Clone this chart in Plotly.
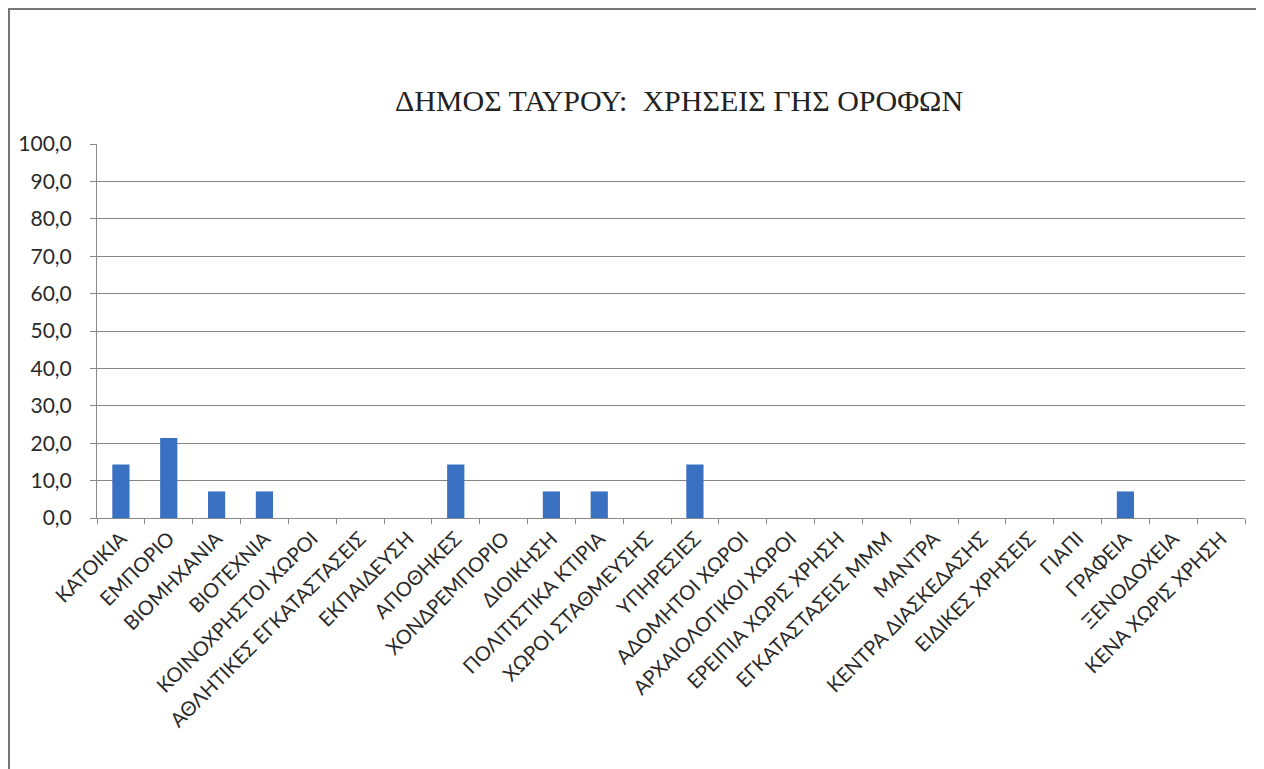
import plotly.graph_objects as go

categories = [
    "ΚΑΤΟΙΚΙΑ", "ΕΜΠΟΡΙΟ", "ΒΙΟΜΗΧΑΝΙΑ", "ΒΙΟΤΕΧΝΙΑ", "ΚΟΙΝΟΧΡΗΣΤΟΙ ΧΩΡΟΙ",
    "ΑΘΛΗΤΙΚΕΣ ΕΓΚΑΤΑΣΤΑΣΕΙΣ", "ΕΚΠΑΙΔΕΥΣΗ", "ΑΠΟΘΗΚΕΣ", "ΧΟΝΔΡΕΜΠΟΡΙΟ",
    "ΔΙΟΙΚΗΣΗ", "ΠΟΛΙΤΙΣΤΙΚΑ ΚΤΙΡΙΑ", "ΧΩΡΟΙ ΣΤΑΘΜΕΥΣΗΣ", "ΥΠΗΡΕΣΙΕΣ",
    "ΑΔΟΜΗΤΟΙ ΧΩΡΟΙ", "ΑΡΧΑΙΟΛΟΓΙΚΟΙ ΧΩΡΟΙ", "ΕΡΕΙΠΙΑ ΧΩΡΙΣ ΧΡΗΣΗ",
    "ΕΓΚΑΤΑΣΤΑΣΕΙΣ ΜΜΜ", "ΜΑΝΤΡΑ", "ΚΕΝΤΡΑ ΔΙΑΣΚΕΔΑΣΗΣ", "ΕΙΔΙΚΕΣ ΧΡΗΣΕΙΣ",
    "ΓΙΑΠΙ", "ΓΡΑΦΕΙΑ", "ΞΕΝΟΔΟΧΕΙΑ", "ΚΕΝΑ ΧΩΡΙΣ ΧΡΗΣΗ",
]
values = [14.3, 21.4, 7.1, 7.1, 0, 0, 0, 14.3, 0, 7.1, 7.1, 0, 14.3,
          0, 0, 0, 0, 0, 0, 0, 0, 7.1, 0, 0]
y_ticks = [0, 10, 20, 30, 40, 50, 60, 70, 80, 90, 100]
title_text = "ΔΗΜΟΣ ΤΑΥΡΟΥ:  ΧΡΗΣΕΙΣ ΓΗΣ ΟΡΟΦΩΝ"

# page has an 8px body offset; compensate
OFF = 8
W, H = 1264 - OFF, 769 - OFF
L, R, T, B = 97 - OFF, 1245 - OFF, 144 - OFF, 518 - OFF

fig = go.Figure(go.Bar(
    x=categories, y=values,
    marker=dict(color="#3a70c2", line=dict(width=0)),
    width=0.36,
))

fig.update_layout(
    width=W, height=H,
    margin=dict(l=L, r=W - R, t=T, b=H - B, autoexpand=False),
    paper_bgcolor="white", plot_bgcolor="white",
    separators=",.",
    showlegend=False,
    title=dict(text=title_text, x=(679 - OFF) / W, xanchor="center",
               y=1 - (100 - OFF) / H, yanchor="middle",
               font=dict(family="Liberation Serif", size=30, color="#222")),
    font=dict(family="Lato", color="#2a2a2a"),
)
fig.update_xaxes(
    type="category", tickangle=-45, tickfont=dict(size=20, family="Lato", color="#2a2a2a"),
    showline=True, linecolor="#888", linewidth=1,
    ticks="outside", ticklen=5, tickcolor="#888", tickson="boundaries",
    showgrid=False,
)
fig.update_yaxes(
    range=[0, 100], tickvals=y_ticks, tickformat=".1f",
    tickfont=dict(size=21, family="Lato", color="#2a2a2a"),
    showline=True, linecolor="#888", linewidth=1,
    ticks="outside", ticklen=6, tickcolor="#888", ticklabelstandoff=14,
    showgrid=True, gridcolor="#858585", gridwidth=1, zeroline=False,
)

pw, ph = R - L, B - T
# frame around the chart (figure-pixel coordinates converted to paper units)
fx0, fx1, fy_top = 1, 1254, 1
fig.add_shape(type="rect", xref="paper", yref="paper",
              x0=(fx0 - L) / pw, x1=(fx1 - L) / pw,
              y0=(B - (H + 50)) / ph, y1=(B - fy_top) / ph,
              line=dict(color="#777", width=2), fillcolor="rgba(0,0,0,0)", layer="below")

fig.write_html("out.html")
